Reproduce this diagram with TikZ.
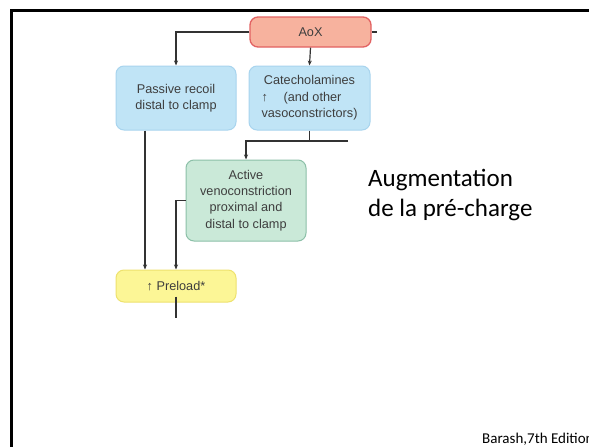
\documentclass[tikz,border=0pt]{standalone}
\usepackage{fontspec}
\setmainfont{Liberation Sans}
\newfontfamily\slidefont{Carlito}
\usetikzlibrary{arrows.meta}

\definecolor{aoxfill}{RGB}{247,178,158}
\definecolor{aoxline}{RGB}{226,98,98}
\definecolor{bluefill}{RGB}{192,228,246}
\definecolor{blueline}{RGB}{168,212,238}
\definecolor{greenfill}{RGB}{202,233,216}
\definecolor{greenline}{RGB}{140,192,168}
\definecolor{yellowfill}{RGB}{252,246,150}
\definecolor{yellowline}{RGB}{238,226,110}
\definecolor{boxtext}{RGB}{62,62,62}
\definecolor{wire}{RGB}{50,50,50}

\tikzset{
  box/.style={rectangle, rounded corners=8pt, line width=1pt, align=center,
    text=boxtext, font=\fontsize{12.7}{16.3}\selectfont, inner sep=2pt},
  aoxbox/.style={box, fill=aoxfill, draw=aoxline, line width=1.3pt},
  bluebox/.style={box, fill=bluefill, draw=blueline},
  greenbox/.style={box, fill=greenfill, draw=greenline},
  yellowbox/.style={box, fill=yellowfill, draw=yellowline},
  wireline/.style={draw=wire, line width=1.2pt},
  flow/.style={wireline, -{Stealth[length=5pt,width=4pt]}},
}

\begin{document}
\begin{tikzpicture}[x=1pt, y=-1pt]
\useasboundingbox (0,0) rectangle (589,447);
\fill[white] (0,0) rectangle (589,447);

% slide frame (top and left edges)
\draw[line width=2.3pt, black] (11.5,447) -- (11.5,10.5) -- (589,10.5);

% boxes
\node[aoxbox, minimum width=121pt, minimum height=30pt] (aox) at (310.5,32) {AoX};
\node[bluebox, minimum width=120pt, minimum height=64pt] (passive) at (176,98)
  {Passive recoil\\distal to clamp};
\node[bluebox, minimum width=121pt, minimum height=64pt] (cat) at (309.5,98)
  {Catecholamines\\\makebox[0pt][l]{\hspace*{-16pt}↑}\hspace*{6pt}(and other\\vasoconstrictors)};
\node[greenbox, minimum width=120pt, minimum height=81pt] (active) at (246,200.5)
  {Active\\venoconstriction\\proximal and\\distal to clamp};
\node[yellowbox, minimum width=120pt, minimum height=32pt] (preload) at (176,286)
  {↑ Preload*};

% free ends of the connectors
\coordinate (aoxout) at (377,32);
\coordinate (catjoin) at (309.5,141);
\coordinate (catright) at (348,141);
\coordinate (preout) at (176,318);

% connectors
\draw[wireline] (aox.east) -- (aoxout);
\draw[flow] (aox.west) -| (passive.north);
\draw[flow] (aox.south) -- (cat.north);
\draw[wireline] (cat.south) -- (catjoin);
\draw[flow] (catright) -| (active.north);
\draw[flow] ([xshift=-31pt]passive.south) -- ([xshift=-31pt]preload.north);
\draw[flow] (active.west) -| (preload.north);
\draw[wireline] ([yshift=6pt]preload.south) -- (preout);

% slide text
\node[anchor=base west, align=left, inner sep=0pt,
      font=\slidefont\fontsize{25}{30}\selectfont] (note) at (368,216.7)
  {Augmentation\\de la pré-charge};
\node[anchor=base west, inner sep=0pt, font=\slidefont\fontsize{15}{18}\selectfont]
  (source) at (482,443) {Barash,7th Edition};
\end{tikzpicture}
\end{document}
